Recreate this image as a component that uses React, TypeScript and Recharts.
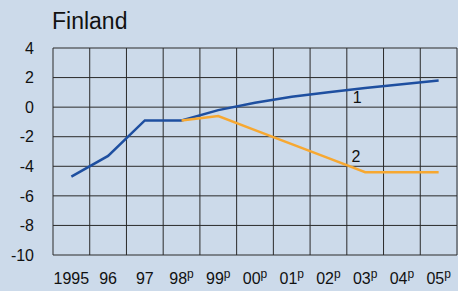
import { CartesianGrid, Line, LineChart, ReferenceDot, XAxis, YAxis } from "recharts";

const years = ["1995", "96", "97", "98p", "99p", "00p", "01p", "02p", "03p", "04p", "05p"];
const series1 = [-4.7, -3.3, -0.9, -0.9, -0.2, 0.3, 0.7, 1.0, 1.3, 1.55, 1.8];
const series2 = [null, null, null, -0.9, -0.6, -1.55, -2.5, -3.45, -4.4, -4.4, -4.4];
const yTicks = [-10, -8, -6, -4, -2, 0, 2, 4];

const data = years.map((y, i) => ({ x: i + 0.5, year: y, s1: series1[i], s2: series2[i] }));
const labelTicks = years.map((_, i) => i + 0.5);
const gridTicks = Array.from({ length: years.length + 1 }, (_, i) => i);

const font = "'Liberation Sans', Arial, sans-serif";

function YearTick(props: any) {
  const { x, y, payload } = props;
  const label = years[Math.floor(payload.value)] ?? "";
  const proj = label.endsWith("p");
  const base = proj ? label.slice(0, -1) : label;
  return (
    <text x={x} y={y} dy="0.71em" textAnchor="middle" fontSize={16} fill="#111" fontFamily={font}>
      {base}
      {proj && (
        <tspan fontSize={12} dy={-6}>
          p
        </tspan>
      )}
    </text>
  );
}

export default function App() {
  return (
    <div
      style={{
        position: "fixed",
        left: 0,
        top: 0,
        width: 458,
        height: 291,
        background: "#CCDAEA",
        fontFamily: font,
      }}
    >
      <div style={{ position: "absolute", left: 52, top: 8, fontSize: 23, color: "#111", lineHeight: "26px" }}>
        Finland
      </div>
      <LineChart width={458} height={291} data={data} margin={{ top: 48, right: 1, left: 0, bottom: 0 }}>
        <CartesianGrid xAxisId="grid" stroke="#2a2a2a" strokeWidth={1} />
        <XAxis
          xAxisId="grid"
          dataKey="x"
          type="number"
          domain={[0, years.length]}
          ticks={gridTicks}
          hide
        />
        <XAxis
          dataKey="x"
          type="number"
          domain={[0, years.length]}
          ticks={labelTicks}
          interval={0}
          axisLine={false}
          tickLine={false}
          tickSize={0}
          tickMargin={18}
          height={36}
          tick={<YearTick />}
        />
        <YAxis
          domain={[-10, 4]}
          ticks={yTicks}
          interval={0}
          axisLine={false}
          tickLine={false}
          tickSize={0}
          tickMargin={19}
          width={53}
          tick={{ fontSize: 16, fill: "#111", fontFamily: font }}
        />
        <Line
          dataKey="s1"
          stroke="#1E4FA0"
          strokeWidth={2.5}
          dot={false}
          type="linear"
          isAnimationActive={false}
        />
        <Line
          dataKey="s2"
          stroke="#F7A831"
          strokeWidth={2.5}
          dot={false}
          type="linear"
          connectNulls={false}
          isAnimationActive={false}
        />
        <ReferenceDot
          x={8.28}
          y={0.67}
          r={0}
          label={{ value: "1", position: "center", fontSize: 16, fill: "#111", fontFamily: font }}
        />
        <ReferenceDot
          x={8.25}
          y={-3.3}
          r={0}
          label={{ value: "2", position: "center", fontSize: 16, fill: "#111", fontFamily: font }}
        />
      </LineChart>
    </div>
  );
}
